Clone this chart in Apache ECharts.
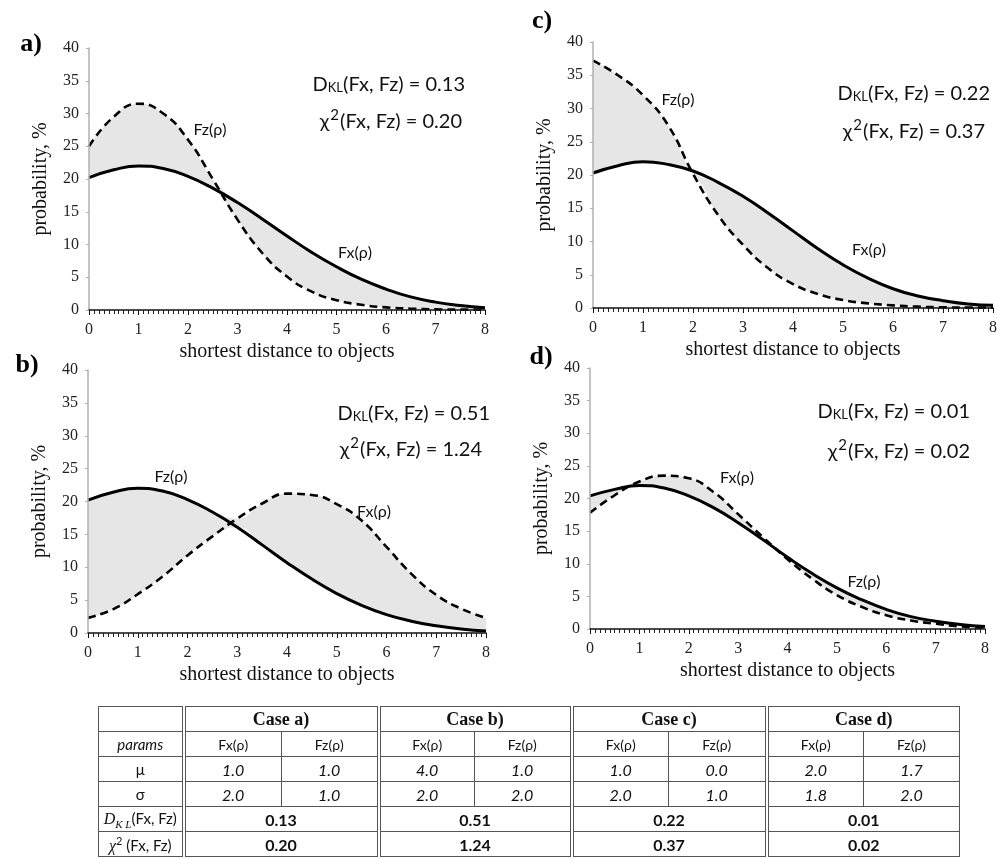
<!DOCTYPE html>
<html>
<head>
<meta charset="utf-8">
<script src="https://cdn.jsdelivr.net/npm/echarts@6/dist/echarts.min.js"></script>
<style>
  html, body { margin: 0; padding: 0; background: #fff; }
  #chart { position: absolute; left: 0; top: 0; width: 1000px; height: 859px; }
  #tbl {
    position: absolute; left: 98px; top: 706px;
    border-collapse: collapse; table-layout: fixed; width: 861px;
    font-family: Lato, "Open Sans", sans-serif; color: #111;
  }
  #tbl td { border: 1px solid #555; text-align: center; padding: 0; height: 24px; white-space: nowrap; overflow: hidden; }
  #tbl td.g { border-left: 4px double #555; }
  #tbl .case { font-family: "Liberation Serif", serif; font-weight: bold; font-size: 18px; }
  #tbl .fn { font-size: 14px; }
  #tbl .it { font-style: italic; font-size: 16px; }
  #tbl .bd { font-weight: bold; font-size: 16px; }
  #tbl .lab { font-size: 15px; }
  #tbl .ser { font-family: "Liberation Serif", serif; font-style: italic; }
</style>
</head>
<body>
<div id="chart"></div>
<table id="tbl">
  <colgroup>
    <col style="width:85px"><col style="width:98px"><col style="width:97px"><col style="width:96px"><col style="width:97px"><col style="width:97px"><col style="width:98px"><col style="width:97px"><col style="width:96px">
  </colgroup>
  <tbody id="tbody"></tbody>
</table>
<script>
// ---------- data ----------
const xs = [0, 0.5, 1, 1.5, 2, 2.5, 3, 3.5, 4, 4.5, 5, 5.5, 6, 6.5, 7, 7.5, 8];

// panel a: Fx solid, Fz dashed
const aSolid = [20.2, 21.4, 22.0, 21.6, 20.4, 18.6, 16.4, 13.9, 11.3, 8.8, 6.6, 4.7, 3.2, 2.0, 1.2, 0.7, 0.35];
const aDash  = [25.0, 29.5, 31.5, 30.0, 26.0, 20.0, 13.8, 8.7, 5.1, 2.8, 1.5, 0.8, 0.4, 0.2, 0.1, 0.05, 0.05];
// panel c: Fx solid, Fz dashed
const cSolid = [20.3, 21.4, 22.0, 21.6, 20.6, 18.9, 16.8, 14.3, 11.6, 8.9, 6.5, 4.5, 2.9, 1.8, 1.1, 0.6, 0.4];
const cDash  = [37.2, 35.0, 32.0, 27.5, 20.2, 14.0, 9.5, 6.0, 3.6, 2.1, 1.2, 0.7, 0.4, 0.2, 0.1, 0.05, 0.05];
// panel b: Fz solid, Fx dashed
const bSolid = [20.2, 21.4, 22.0, 21.6, 20.3, 18.4, 16.1, 13.4, 10.7, 8.2, 6.0, 4.2, 2.8, 1.8, 1.1, 0.6, 0.3];
const bDash  = [2.3, 3.6, 5.9, 8.6, 11.8, 14.7, 17.4, 19.7, 21.2, 21.0, 19.6, 17.1, 13.1, 9.0, 5.8, 3.7, 2.3];
// panel d: Fz solid, Fx dashed
const dSolid = [20.4, 21.4, 22.0, 21.6, 20.4, 18.6, 16.3, 13.7, 11.0, 8.5, 6.3, 4.5, 3.0, 1.9, 1.2, 0.7, 0.4];
const dDash  = [17.8, 20.5, 22.6, 23.5, 23.1, 21.0, 17.6, 14.1, 10.7, 7.7, 5.2, 3.4, 2.1, 1.3, 0.8, 0.4, 0.2];

const panelLetters = ['a)', 'c)', 'b)', 'd)'];
const dklValues = ['0.13', '0.22', '0.51', '0.01'];
const chiValues = ['0.20', '0.37', '1.24', '0.02'];
const solidNames = ['Fx(ρ)', 'Fx(ρ)', 'Fz(ρ)', 'Fz(ρ)'];
const dashNames  = ['Fz(ρ)', 'Fz(ρ)', 'Fx(ρ)', 'Fx(ρ)'];

// table data
const caseNames = ['Case a)', 'Case b)', 'Case c)', 'Case d)'];
const muFx = ['1.0', '4.0', '1.0', '2.0'];
const muFz = ['1.0', '1.0', '0.0', '1.7'];
const sgFx = ['2.0', '2.0', '2.0', '1.8'];
const sgFz = ['1.0', '2.0', '1.0', '2.0'];
const tblDkl = ['0.13', '0.51', '0.22', '0.01'];
const tblChi = ['0.20', '1.24', '0.37', '0.02'];

// ---------- layout ----------
const grids = [
  { left: 89, top: 48, width: 396, height: 262 },
  { left: 593, top: 42, width: 404, height: 266 },
  { left: 88, top: 370, width: 398, height: 263 },
  { left: 590, top: 368, width: 395, height: 261 }
];
const panelSolid = [aSolid, cSolid, bSolid, dSolid];
const panelDash = [aDash, cDash, bDash, dDash];

const SERIF = '"Liberation Serif", "Times New Roman", serif';
const SANS = 'Lato, "Open Sans", sans-serif';
const SM = 0.5;

const xAxes = [], yAxes = [], series = [];
grids.forEach((g, k) => {
  xAxes.push({
    type: 'value', gridIndex: k, min: 0, max: 8, interval: 1, z: 10,
    name: 'shortest distance to objects', nameLocation: 'middle', nameGap: 32,
    nameTextStyle: { fontFamily: SERIF, fontSize: 20, color: '#111' },
    axisLine: { show: true, onZero: false, lineStyle: { color: '#111', width: 1.5 } },
    axisTick: { show: true, inside: false, length: 5, lineStyle: { color: '#111', width: 1 } },
    minorTick: { show: true, splitNumber: 10, length: 4, lineStyle: { color: '#222', width: 1 } },
    splitLine: { show: false },
    minorSplitLine: { show: false },
    axisLabel: { fontFamily: SERIF, fontSize: 16, color: '#222', margin: 12 }
  });
  yAxes.push({
    type: 'value', gridIndex: k, min: 0, max: 40, interval: 5, z: 10,
    name: 'probability, %', nameLocation: 'middle', nameGap: 38, nameRotate: 90,
    nameTextStyle: { fontFamily: SERIF, fontSize: 20, color: '#111' },
    axisLine: { show: true, lineStyle: { color: '#b0b0b0', width: 1.5 } },
    axisTick: { show: true, length: 3, lineStyle: { color: '#b0b0b0' } },
    splitLine: { show: false },
    axisLabel: { fontFamily: SERIF, fontSize: 16, color: '#222', margin: 10 }
  });
  const s = panelSolid[k], d = panelDash[k];
  const hi = s.map((v, i) => Math.max(v, d[i]));
  const lo = s.map((v, i) => Math.min(v, d[i]));
  // grey region between the curves = area under upper envelope minus area under lower envelope
  series.push({
    type: 'line', xAxisIndex: k, yAxisIndex: k, smooth: SM,
    symbol: 'none', silent: true, lineStyle: { width: 0, opacity: 0 },
    areaStyle: { color: '#e6e6e6', opacity: 1, origin: 'start' },
    data: xs.map((x, i) => [x, hi[i]]), z: 1
  });
  series.push({
    type: 'line', xAxisIndex: k, yAxisIndex: k, smooth: SM,
    symbol: 'none', silent: true, lineStyle: { width: 0, opacity: 0 },
    areaStyle: { color: '#ffffff', opacity: 1, origin: 'start' },
    data: xs.map((x, i) => [x, lo[i]]), z: 2
  });
  series.push({
    type: 'line', name: solidNames[k], xAxisIndex: k, yAxisIndex: k, smooth: SM,
    symbol: 'none', lineStyle: { color: '#000', width: 3, type: 'solid' },
    data: xs.map((x, i) => [x, s[i]]), z: 3
  });
  series.push({
    type: 'line', name: dashNames[k], xAxisIndex: k, yAxisIndex: k, smooth: SM,
    symbol: 'none', lineStyle: { color: '#000', width: 2.6, type: [8, 5] },
    data: xs.map((x, i) => [x, d[i]]), z: 4
  });
});

// ---------- annotations ----------
const letterPos = [[31, 44], [542, 21], [27, 365], [541, 357]];
const dklPos = [[465, 83], [990, 92], [490, 412], [970, 410]];
const chiPos = [[462, 120], [985, 130], [482, 448], [970, 450]];
const solidLabelPos = [[355, 253], [869, 250], [171, 477], [864, 582]];
const dashLabelPos = [[210, 130], [678, 100], [374, 512], [737, 478]];

const graphic = [];
for (let k = 0; k < 4; k++) {
  graphic.push({ type: 'text', silent: true, z: 20, style: {
    x: letterPos[k][0], y: letterPos[k][1], text: panelLetters[k],
    font: 'bold 26px ' + SERIF, fill: '#000', align: 'center', verticalAlign: 'middle' } });
  graphic.push({ type: 'text', silent: true, z: 20, style: {
    x: dklPos[k][0], y: dklPos[k][1],
    text: '{n|D}{s|KL}{n|(Fx, Fz) = ' + dklValues[k] + '}',
    align: 'right', verticalAlign: 'middle', fill: '#111',
    rich: { n: { fontFamily: SANS, fontSize: 20, color: '#111', lineHeight: 24, verticalAlign: 'bottom' },
            s: { fontFamily: SANS, fontSize: 13, color: '#111', lineHeight: 24, verticalAlign: 'bottom', padding: [0, 0, 1, 0] } } } });
  graphic.push({ type: 'text', silent: true, z: 20, style: {
    x: chiPos[k][0], y: chiPos[k][1],
    text: '{n|χ}{p|2}{n|(Fx, Fz) = ' + chiValues[k] + '}',
    align: 'right', verticalAlign: 'middle', fill: '#111',
    rich: { n: { fontFamily: SANS, fontSize: 20, color: '#111', lineHeight: 24, verticalAlign: 'bottom' },
            p: { fontFamily: SANS, fontSize: 15, color: '#111', lineHeight: 24, verticalAlign: 'top', padding: [0, 1, 6, 1] } } } });
  graphic.push({ type: 'text', silent: true, z: 20, style: {
    x: solidLabelPos[k][0], y: solidLabelPos[k][1], text: solidNames[k],
    font: '16px ' + SANS, fill: '#111', align: 'center', verticalAlign: 'middle' } });
  graphic.push({ type: 'text', silent: true, z: 20, style: {
    x: dashLabelPos[k][0], y: dashLabelPos[k][1], text: dashNames[k],
    font: '16px ' + SANS, fill: '#111', align: 'center', verticalAlign: 'middle' } });
}

const chart = echarts.init(document.getElementById('chart'), null, { renderer: 'canvas' });
chart.setOption({
  backgroundColor: '#fff',
  animation: false,
  grid: grids,
  xAxis: xAxes,
  yAxis: yAxes,
  series: series,
  graphic: graphic
});

// ---------- table ----------
const tb = document.getElementById('tbody');
function row(cells) {
  const tr = document.createElement('tr');
  cells.forEach(c => {
    const td = document.createElement('td');
    td.innerHTML = c.html;
    if (c.cls) td.className = c.cls;
    if (c.span) td.colSpan = c.span;
    tr.appendChild(td);
  });
  tb.appendChild(tr);
}
row([{ html: '' }].concat(caseNames.map(n => ({ html: n, cls: 'g case', span: 2 }))));
row([{ html: '<i>params</i>', cls: 'lab' }].concat(caseNames.flatMap(() => [
  { html: 'Fx(ρ)', cls: 'g fn' }, { html: 'Fz(ρ)', cls: 'fn' }])));
row([{ html: 'μ', cls: 'lab' }].concat(muFx.flatMap((v, i) => [
  { html: v, cls: 'g it' }, { html: muFz[i], cls: 'it' }])));
row([{ html: 'σ', cls: 'lab' }].concat(sgFx.flatMap((v, i) => [
  { html: v, cls: 'g it' }, { html: sgFz[i], cls: 'it' }])));
row([{ html: '<span class="ser" style="font-size:16px">D</span><sub class="ser" style="font-size:11px">K L</sub>(Fx, Fz)', cls: 'lab' }]
  .concat(tblDkl.map(v => ({ html: v, cls: 'g bd', span: 2 }))));
row([{ html: '<span class="ser" style="font-size:16px">χ</span><sup style="font-size:11px">2</sup> (Fx, Fz)', cls: 'lab' }]
  .concat(tblChi.map(v => ({ html: v, cls: 'g bd', span: 2 }))));
</script>
</body>
</html>
